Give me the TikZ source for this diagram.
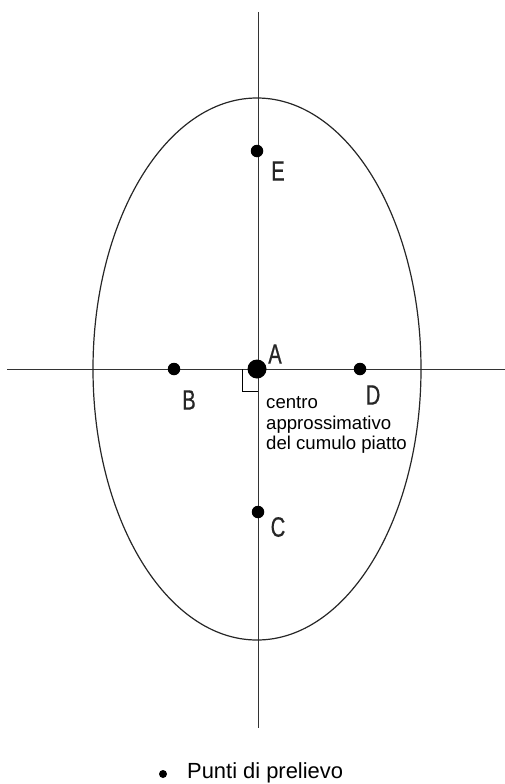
\documentclass[tikz,border=0pt]{standalone}
\usepackage{fontspec}
\usepackage{tikz}
\newfontfamily\letterefont[FakeStretch=0.72, FakeBold=0.6]{Liberation Sans}
\newfontfamily\testofont{Liberation Sans}
\newcommand{\lettere}{\letterefont\fontsize{28}{30}\selectfont}
\newcommand{\testo}{\testofont\fontsize{18.6}{20.6}\selectfont}
\newcommand{\legenda}{\testofont\fontsize{21.9}{24}\selectfont}

\begin{document}
\begin{tikzpicture}[
  x=1pt, y=-1pt,
  every node/.style={inner sep=0pt},
  punto/.style={circle, fill=black, minimum size=12.5pt},
  etichetta/.style={font=\lettere, text=black!85},
  asse/.style={line width=1pt, black!80}
]
\useasboundingbox (0,0) rectangle (505,784);
% assi
\coordinate (nord) at (258,12);
\coordinate (sud) at (258,728);
\coordinate (ovest) at (7,369);
\coordinate (est) at (505,369);
\draw[asse] (nord) -- (sud);
\draw[asse] (ovest) -- (est);
% cumulo
\draw[line width=1.2pt, black!85] (257,369) ellipse [x radius=164pt, y radius=271pt];
% punti
\node[punto, minimum size=19pt] (A) at (257,369) {};
\node[punto] (B) at (174,369) {};
\node[punto] (C) at (258,512) {};
\node[punto] (D) at (360,369) {};
\node[punto] (E) at (257,151) {};
\node[etichetta] (lA) at (275,354) {A};
\node[etichetta] (lB) at (189,400) {B};
\node[etichetta] (lC) at (278,527) {C};
\node[etichetta] (lD) at (373,395) {D};
\node[etichetta] (lE) at (278,171) {E};
% angolo retto
\draw[line width=1pt] (242,369) |- (258,391);
\node[font=\testo, align=left, anchor=north west] (centro) at (266,396.5)
  {centro\\approssimativo\\del cumulo piatto};
% legenda
\node[circle, fill=black, minimum size=8pt] (bullet) at (163,774) {};
\node[font=\legenda, anchor=base west] (prelievo) at (187,778) {Punti di prelievo};
\end{tikzpicture}
\end{document}
